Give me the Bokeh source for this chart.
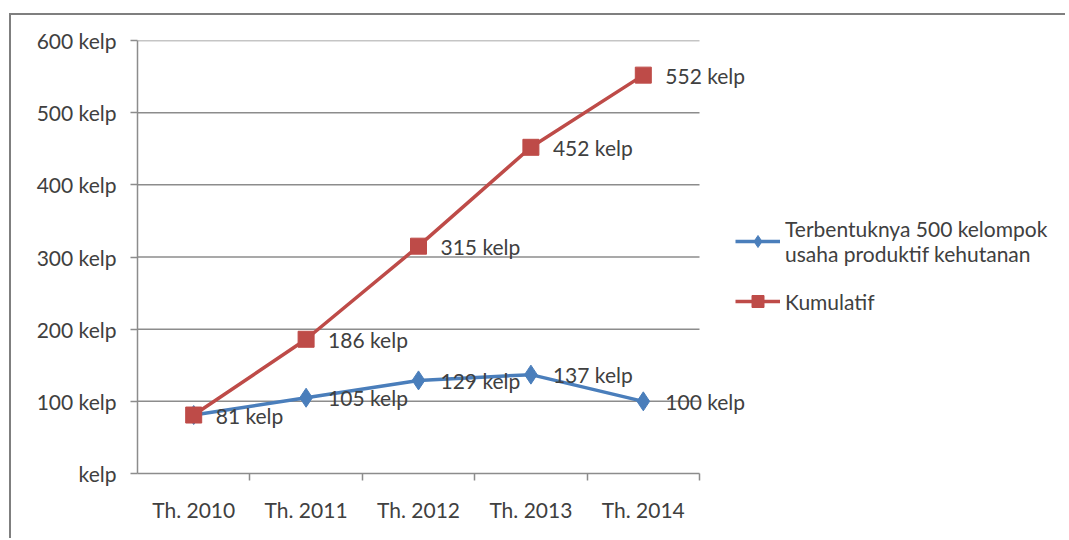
from bokeh.plotting import figure
from bokeh.models import (Range1d, FixedTicker, Legend, LegendItem, ColumnDataSource)
from bokeh.core.properties import value
from bokeh.embed import file_html
from bokeh.resources import INLINE

years = ["Th. 2010", "Th. 2011", "Th. 2012", "Th. 2013", "Th. 2014"]
kelompok = [81, 105, 129, 137, 100]
kumulatif = [81, 186, 315, 452, 552]
y_ticks = [0, 100, 200, 300, 400, 500, 600]
y_tick_labels = ["kelp", "100 kelp", "200 kelp", "300 kelp", "400 kelp", "500 kelp", "600 kelp"]
series_names = ["Terbentuknya 500 kelompok\nusaha produktif kehutanan", "Kumulatif"]

FONT = "Lato"
TXT = "#404040"
GRID = "#8c8c8c"
BLUE = "#4a7ebb"
RED = "#be4b48"

n = len(years)
xs = [i + 0.5 for i in range(n)]

W, H = 1056, 525
BL, BT, BB = 126, 25, 67
plot_w = 562  # width of the category area in pixels
frame_w = W - BL
x_end = n * frame_w / plot_w

p = figure(width=W, height=H, output_backend="svg", toolbar_location=None,
           x_range=Range1d(0, x_end), y_range=Range1d(0, 600),
           min_border_left=BL, min_border_right=0, min_border_top=BT, min_border_bottom=BB)
p.styles = {"border-top": "2px solid #7f7f7f", "border-left": "2px solid #7f7f7f",
            "margin-left": "9px", "margin-top": "13px"}
p.outline_line_color = None
p.background_fill_color = "white"
p.border_fill_color = "white"

# gridlines limited to the category area
p.segment(x0=[0] * 6, x1=[n] * 6, y0=y_ticks[1:], y1=y_ticks[1:],
          line_color=GRID, line_width=1.5)
p.xgrid.grid_line_color = None
p.ygrid.grid_line_color = None

# x axis
p.xaxis.bounds = (0, n)
p.xaxis.ticker = FixedTicker(ticks=xs, minor_ticks=list(range(1, n + 1)))
p.xaxis.major_label_overrides = {x: y for x, y in zip(xs, years)}
p.xaxis.major_tick_out = 0
p.xaxis.major_tick_in = 0
p.xaxis.minor_tick_out = 7
p.xaxis.minor_tick_in = 0
p.xaxis.minor_tick_line_color = GRID
p.xaxis.minor_tick_line_width = 1.5
p.xaxis.axis_line_color = GRID
p.xaxis.axis_line_width = 1.5
p.xaxis.major_label_text_font = FONT
p.xaxis.major_label_text_font_size = "21px"
p.xaxis.major_label_text_color = TXT
p.xaxis.major_label_standoff = 16

# y axis
p.yaxis.ticker = FixedTicker(ticks=y_ticks)
p.yaxis.major_label_overrides = {t: l for t, l in zip(y_ticks, y_tick_labels)}
p.yaxis.major_tick_out = 7
p.yaxis.major_tick_in = 0
p.yaxis.minor_tick_line_color = None
p.yaxis.major_tick_line_color = GRID
p.yaxis.major_tick_line_width = 1.5
p.yaxis.axis_line_color = GRID
p.yaxis.axis_line_width = 1.5
p.yaxis.major_label_text_font = FONT
p.yaxis.major_label_text_font_size = "21px"
p.yaxis.major_label_text_color = TXT
p.yaxis.major_label_standoff = 14

src_b = ColumnDataSource(dict(x=xs, y=kelompok))
src_r = ColumnDataSource(dict(x=xs, y=kumulatif, lab=[f"{v} kelp" for v in kumulatif]))

lb = p.line("x", "y", source=src_b, line_color=BLUE, line_width=3.5)
mb = p.scatter("x", "y", source=src_b, marker="diamond", size=19, fill_color=BLUE, line_color=BLUE)
lr = p.line("x", "y", source=src_r, line_color=RED, line_width=3.5)
mr = p.scatter("x", "y", source=src_r, marker="square", size=16, fill_color=RED, line_color=RED)

# data labels (blue's first label coincides with red's and is hidden behind it)
src_bl = ColumnDataSource(dict(x=xs[1:], y=kelompok[1:], lab=[f"{v} kelp" for v in kelompok[1:]]))
for s in (src_bl, src_r):
    p.text("x", "y", text="lab", source=s, x_offset=22, y_offset=0,
           text_font=value(FONT), text_font_size="21px", text_color=TXT,
           text_align="left", text_baseline="middle")

legend = Legend(items=[LegendItem(label=series_names[0], renderers=[lb, mb]),
                       LegendItem(label=series_names[1], renderers=[lr, mr])],
                location=(598, 157), padding=0, margin=0, spacing=20,
                border_line_alpha=0, background_fill_alpha=0,
                glyph_width=45, glyph_height=30, label_standoff=5,
                label_text_font=FONT, label_text_font_size="21px",
                label_text_color=TXT, label_text_line_height=1.38)
p.add_layout(legend, "center")

open("out.html", "w").write(file_html(p, INLINE))
